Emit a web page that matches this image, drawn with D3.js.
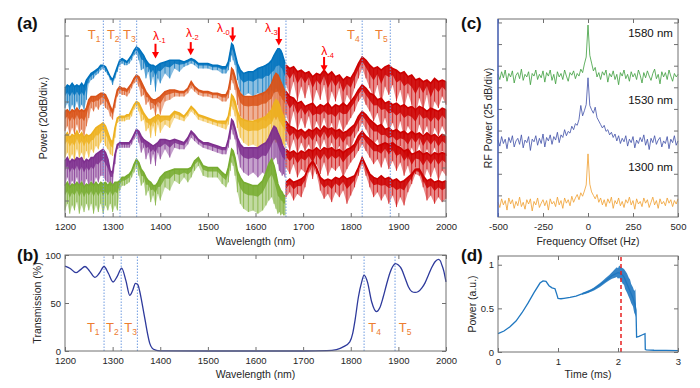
<!DOCTYPE html>
<html>
<head>
<meta charset="utf-8">
<script src="https://d3js.org/d3.v7.min.js"></script>
<style>
html,body{margin:0;padding:0;background:#fff;}
svg{display:block;}
</style>
</head>
<body>
<svg id="chart" width="700" height="388"></svg>
<script>
// ================= DATA =================
// (a) spectra, wavelength grid for the coloured part (nm)
const wlA = [1200,1205,1210,1215,1220,1225,1230,1235,1240,1245,
  1250,1255,1260,1265,1270,1275,1280,1285,1290,1295,
  1300,1305,1310,1315,1320,1325,1330,1335,1340,1345,
  1350,1355,1360,1365,1370,1375,1380,1385,1390,1395,
  1400,1410,1420,1430,1440,1450,1458,1465,1472,1480,
  1490,1500,1510,1520,1530,1538,1543,1547,1550,1553,
  1557,1562,1568,1575,1585,1595,1605,1615,1622,1628,
  1634,1639,1643,1647,1650,1653,1656,1659,1662];
// power (dB, offset) : upper envelope and lower edge of the noise
const blueTop = [78,80,79,81,79,80,79,81,79,83, 85,87,88,89,90,92,92,91,88,85, 83,87,91,95,96,95,94,96,98,101,
  103,102,100,98,95,93,92,92,91,92, 93,94,95,95,95,94,95,96,95,93, 93,93,92,92,91,91,94,100,105,104,
  99,93,89,87,88,88,90,91,92,93, 95,98,100,102,102,101,99,96,93];
const blueLow = [66,69,64,68,65,70,65,68,65,71, 81,83,84,86,87,89,90,88,86,83, 80,84,88,92,93,92,92,93,95,98,
  99,95,89,90,84,88,80,85,76,84, 81,87,84,90,88,91,92,93,92,90, 90,90,89,89,87,87,89,94,98,95,
  92,83,76,73,75,73,75,73,76,74, 77,75,78,76,77,75,76,74,73];
const orangeTop = [64,65,63,65,64,66,64,65,64,66, 71,73,73,73,74,75,75,74,71,67, 64,71,77,79,78,78,77,79,81,84,
  86,85,82,79,76,74,72,71,71,72, 73,76,77,77,76,76,78,82,79,77, 76,76,75,75,74,74,77,83,90,89,
  85,79,75,73,73,73,74,75,76,78, 81,85,87,86,84,82,80,78,76];
const orangeLow = [52,55,50,54,50,56,51,53,49,55, 60,66,64,67,65,68,69,66,65,61, 59,66,73,75,74,74,73,75,78,81,
  82,79,73,74,68,70,65,66,61,67, 62,70,71,73,73,73,75,78,76,74, 73,73,72,72,70,70,72,77,83,81,
  77,68,61,59,58,59,57,59,58,60, 58,61,59,61,58,60,58,59,57];
const yellowTop = [49,51,48,50,49,52,49,51,48,50, 49,50,52,54,55,56,57,55,51,47, 45,54,60,61,61,61,62,62,65,68,
  70,69,66,63,61,59,59,60,61,62, 61,61,61,64,63,61,64,67,65,62, 61,60,59,58,58,58,61,67,74,73,
  70,64,60,59,58,58,59,60,61,63, 65,69,71,70,68,65,63,61,58];
const yellowLow = [36,39,35,38,34,41,36,39,35,40, 36,41,39,43,41,45,47,43,41,38, 37,48,57,58,58,58,59,59,61,65,
  67,64,58,59,52,54,48,55,49,56, 51,56,54,60,59,58,61,64,62,59, 58,57,56,55,54,53,56,61,67,65,
  61,54,48,45,43,44,42,44,43,45, 44,47,45,46,44,45,43,44,42];
const purpleTop = [34,36,33,35,34,36,35,36,33,35, 34,36,36,38,39,40,41,39,35,28, 27,38,44,45,45,45,45,45,47,50,
  53,52,49,47,46,45,44,43,44,45, 47,47,46,47,46,45,48,52,50,47, 45,45,44,43,42,42,47,53,59,58,
  54,48,44,42,42,42,42,44,45,48, 52,55,54,51,49,47,44,42,41];
const purpleLow = [19,24,18,22,19,24,17,22,18,23, 19,22,18,24,21,25,25,22,21,19, 20,32,41,42,42,42,42,42,44,47,
  49,45,39,42,35,39,32,38,31,39, 35,41,36,42,41,41,44,48,46,44, 42,41,40,39,38,38,42,47,53,50,
  47,38,30,27,25,27,24,27,25,28, 32,35,36,32,28,27,25,26,24];
const greenTop = [19,21,18,20,19,21,19,21,18,20, 19,21,19,21,19,21,20,21,19,21, 19,21,21,22,24,24,25,26,28,32,
  35,33,29,27,24,22,21,19,19,21, 24,27,28,29,29,29,29,30,34,36, 31,30,30,30,27,25,30,36,41,40,
  36,28,24,21,20,19,19,22,27,32, 35,31,26,20,18,16,15,13,13];
const greenLow = [4,8,2,7,4,9,2,7,3,8, 4,8,2,7,3,8,2,7,4,8, 3,7,4,16,19,19,20,21,24,27,
  30,25,19,21,13,16,9,13,7,14, 10,18,16,22,20,24,21,24,28,31, 25,24,24,24,20,18,21,28,33,31,
  25,15,8,5,3,4,2,4,7,10, 12,8,5,2,3,1,2,1,1];
// long-wavelength (red) part
const wlB = [1664,1672,1680,1688,1696,1704,1712,1720,1728,1736,1744,1752,1760,1768,1776,1784,1792,1800,1808,1816,
  1824,1832,1840,1848,1856,1864,1872,1880,1888,1896,1904,1912,1920,1928,1936,1944,1952,1960,1968,1976,1984,1992,2000];
const red1Top = [92,90,91,88,89,87,88,85,87,86, 89,86,88,85,86,83,85,84,88,93, 97,95,92,90,91,89,91,92,90,89, 87,88,85,86,83,84,82,83,81,84, 82,83,82];
const red1Low = [80,74,82,70,79,72,80,68,77,71, 80,66,76,70,78,65,74,70,78,84, 90,84,78,72,80,68,79,74,80,70, 77,66,75,68,62,72,65,74,60,70, 66,73,68];
const red2Top = [76,73,72,69,70,67,68,69,66,68, 67,69,66,68,67,69,67,70,73,77, 80,78,75,74,71,72,69,70,68,69, 67,68,66,67,65,67,66,64,66,65, 64,66,65];
const red2Low = [62,55,64,52,60,54,61,50,58,53, 60,51,57,49,59,52,56,60,64,70, 73,68,64,58,63,54,60,52,57,50, 58,48,55,51,47,56,50,55,45,54, 49,55,50];
const red3Top = [58,55,54,52,53,51,53,52,54,52, 55,53,54,52,53,51,52,54,56,61, 64,62,59,57,55,56,53,54,52,53, 51,52,50,52,50,51,49,51,49,50, 48,50,49];
const red3Low = [46,40,47,38,45,40,44,37,46,41, 47,39,45,38,43,36,44,41,48,52, 57,53,48,44,47,40,45,38,44,36, 43,39,35,42,37,44,34,41,36,42, 35,40,37];
const red4Top = [41,39,40,38,40,39,41,40,42,40, 42,41,42,40,41,39,41,42,44,49, 52,49,47,45,43,44,45,44,45,43, 42,40,41,38,39,40,38,39,37,39, 38,39,38];
const red4Low = [30,26,32,24,29,27,31,23,32,26, 33,25,30,28,31,24,29,33,36,40, 44,40,36,32,35,30,36,29,34,28, 33,25,31,22,30,27,21,29,24,30, 22,28,25];
const red5Top = [21,23,21,22,23,25,31,34,30,24, 22,23,22,24,23,25,23,24,25,30, 36,31,26,24,23,25,23,24,22,23, 21,22,24,26,29,29,25,22,23,21, 22,21,22];
const red5Low = [12,15,10,14,12,18,27,31,26,16, 11,14,9,15,12,16,8,13,18,25, 32,25,18,12,15,10,14,8,13,6, 12,7,15,20,26,25,18,10,13,8, 12,9,11];
const markerWlA = [1280.5,1315.5,1350.5,1664,1824,1883];
const tSubs = ["1","2","3","4","5"];
const tLabelWlA = [1248,1288,1322,1792,1851];
const tLabelDbA = 108;
const lamSubs = ["-1","-2","-0","-3","-4"];
const lamLabelWl = [1385,1454,1519,1620,1738];
const lamLabelDb = [107,109,112,112,98];
const arrowWl = [1390,1464,1552,1649,1744];
const arrowTailDb = [105,106,115,115,97];
const arrowTipDb = [96,98,106,104,88];

// (b) transmission
const wlT = [1200,1211,1223,1232,1242,1252,1263,1272,1282,1291,1301,1310,1319,1328,1336,1342,1348,1353,1357,1361,
  1365,1369,1373,1378,1383,1390,1400,1500,1600,1700,1750,1770,1785,1798,1804,1809,1816,1823,1828,1835,
  1844,1854,1861,1868,1875,1882,1888,1894,1900,1907,1914,1921,1928,1935,1942,1949,1956,1963,1970,1977,
  1984,1988,1991,1995,2000];
const trans = [88.5,86,81.6,84.5,88,83,76.7,81,88,81,71.9,78,86.4,73,58,63,70.5,69,62,52,
  41,30,19,8,3,1,0.2,0,0,0,0.3,1.5,4.5,9.5,18,32,56,72,79,72,
  51,41,45,56,69,81,88,91,89.5,85,76,67,62,61,62,65.5,71,79,87,93,
  95.5,94,90,84,72];
const markerWlB = [1282,1318,1352,1828,1893];
const tLabelWlB = [1246,1286,1324.5,1837,1901];
const tLabelTB = 20;

// (c) RF spectra
const freqC = [-500,-490,-480,-470,-460,-450,-440,-430,-420,-410,-400,-390,-380,-370,-360,-350,-340,-330,-320,-310,
  -300,-290,-280,-270,-260,-250,-240,-230,-220,-210,-200,-190,-180,-170,-160,-150,-140,-130,-120,-110,
  -100,-90,-80,-70,-60,-50,-40,-30,-20,-10,0,10,20,30,40,50,60,70,80,90,
  100,110,120,130,140,150,160,170,180,190,200,210,220,230,240,250,260,270,280,290,
  300,310,320,330,340,350,360,370,380,390,400,410,420,430,440,450,460,470,480,490,500];
const rf1580 = [-60,-66,-57,-64,-55,-68,-59,-63,-56,-70, -61,-58,-65,-54,-67,-60,-63,-57,-72,-59,
  -62,-55,-66,-60,-64,-56,-69,-58,-62,-55, -67,-60,-71,-57,-63,-59,-66,-55,-62,-68,
  -58,-61,-56,-65,-59,-62,-54,-58,-48,-40, -3,-38,-47,-56,-52,-63,-58,-66,-57,-61,
  -55,-69,-59,-63,-56,-66,-60,-72,-58,-62, -55,-65,-60,-68,-57,-63,-59,-66,-55,-61,
  -70,-58,-64,-56,-62,-67,-59,-54,-65,-60, -71,-57,-63,-58,-66,-55,-62,-68,-59,-63, -60];
const rf1530 = [-136,-143,-132,-140,-135,-146,-133,-139,-131,-144, -137,-134,-141,-130,-145,-136,-139,-132,-148,-135,
  -138,-131,-142,-134,-140,-129,-144,-133,-137,-130, -141,-132,-136,-127,-139,-130,-133,-124,-131,-126,
  -128,-120,-124,-117,-119,-112,-96,-108,-102,-95, -64,-96,-101,-105,-98,-110,-114,-118,-122,-119,
  -126,-124,-130,-127,-133,-129,-137,-131,-140,-134, -138,-131,-143,-135,-139,-132,-145,-136,-140,-133,
  -138,-130,-142,-135,-147,-134,-139,-131,-141,-136, -133,-144,-137,-140,-132,-146,-135,-139,-131,-142, -137];
const rf1300 = [-208,-214,-204,-211,-206,-217,-203,-210,-205,-215, -207,-212,-202,-213,-208,-216,-205,-210,-204,-218,
  -207,-211,-203,-214,-209,-205,-212,-206,-217,-204, -210,-207,-213,-202,-211,-206,-215,-203,-209,-205,
  -212,-201,-208,-203,-199,-205,-197,-201,-195,-188, -152,-187,-196,-200,-204,-199,-208,-203,-211,-205,
  -213,-204,-209,-202,-215,-206,-210,-203,-212,-207, -214,-205,-209,-202,-211,-206,-216,-204,-210,-207,
  -213,-203,-209,-205,-214,-208,-202,-211,-206,-215, -204,-210,-207,-212,-203,-209,-205,-213,-206,-210, -204];
const rfLabels = ["1580 nm","1530 nm","1300 nm"];
const rfLabelFreq = 472;
const rfLabelDb = [-17,-94,-172];

// (d) power vs time
const tD = [0,0.1,0.2,0.3,0.4,0.5,0.6,0.7,0.75,0.8,0.85,0.9,0.95,0.98,1.0,1.05,1.1,1.2,1.3,1.4,
  1.5,1.6,1.7,1.8,1.9,2.0,2.05,2.1,2.15,2.2,2.25,2.28,2.3,2.31,2.35,2.4,2.45,2.455,2.47,2.6,2.8,3.0];
const pD = [0.21,0.24,0.29,0.355,0.45,0.56,0.68,0.79,0.815,0.81,0.76,0.735,0.725,0.66,0.615,0.61,0.615,0.625,0.64,0.665,
  0.69,0.725,0.77,0.82,0.875,0.91,0.90,0.86,0.78,0.70,0.62,0.55,0.48,0.17,0.18,0.195,0.21,0.03,0.025,0.02,0.018,0.015];
const tBand = [1.40,1.45,1.50,1.55,1.60,1.65,1.70,1.75,1.80,1.85,1.90,1.95,1.98,2.00,2.02,2.05,2.08,2.10,2.12,2.15,2.18,2.20,2.22,2.25,2.27,2.29,2.30];
const bandHi = [0.675,0.69,0.705,0.72,0.74,0.765,0.79,0.82,0.85,0.88,0.915,0.95,0.97,0.96,0.99,0.97,0.96,0.95,0.93,0.90,0.85,0.83,0.78,0.74,0.70,0.72,0.55];
const bandLo = [0.655,0.665,0.675,0.69,0.705,0.725,0.745,0.77,0.795,0.82,0.84,0.85,0.86,0.84,0.85,0.82,0.78,0.77,0.72,0.68,0.63,0.60,0.56,0.52,0.45,0.42,0.40];
const markT = 2.05;

// ================= DRAWING =================
const FONT = '"Liberation Sans", Arial, Helvetica, sans-serif';
const svg = d3.select("#chart");
svg.append("rect").attr("width",700).attr("height",388).attr("fill","#fff");

const PA={l:65,r:446,t:19,b:217}, PB={l:65,r:446,t:255,b:351},
      PC={l:498,r:678,t:19,b:217}, PD={l:498,r:678,t:256,b:352};
const xA=d3.scaleLinear().domain([1200,2000]).range([PA.l,PA.r]);
const yA=d3.scaleLinear().domain([0,120]).range([PA.b,PA.t]);
const xB=d3.scaleLinear().domain([1200,2000]).range([PB.l,PB.r]);
const yB=d3.scaleLinear().domain([0,100]).range([PB.b,PB.t]);
const xC=d3.scaleLinear().domain([-500,500]).range([PC.l,PC.r]);
const yC=d3.scaleLinear().domain([-225,4]).range([PC.b,PC.t]);
const xD=d3.scaleLinear().domain([0,3]).range([PD.l,PD.r]);
const yD=d3.scaleLinear().domain([0,1.1]).range([PD.b,PD.t]);

function frame(P,x,y,xt,yt,xfmt,yfmt){
  const g=svg.append("g");
  g.append("g").attr("transform",`translate(0,${P.b})`)
    .call(d3.axisBottom(x).tickValues(xt).tickSizeInner(-4).tickSizeOuter(0).tickPadding(6.5).tickFormat(xfmt||""));
  g.append("g").attr("transform",`translate(0,${P.t})`)
    .call(d3.axisTop(x).tickValues(xt).tickSizeInner(-4).tickSizeOuter(0).tickFormat(""));
  g.append("g").attr("transform",`translate(${P.l},0)`)
    .call(d3.axisLeft(y).tickValues(yt).tickSizeInner(-4).tickSizeOuter(0).tickPadding(4).tickFormat(yfmt||""));
  g.append("g").attr("transform",`translate(${P.r},0)`)
    .call(d3.axisRight(y).tickValues(yt).tickSizeInner(-4).tickSizeOuter(0).tickFormat(""));
  g.selectAll(".domain").remove();
  g.selectAll(".tick line").attr("stroke","#707070");
  g.selectAll(".tick text").attr("fill","#262626").attr("font-size",9.5).attr("font-family",FONT);
  g.append("rect").attr("x",P.l).attr("y",P.t).attr("width",P.r-P.l).attr("height",P.b-P.t)
    .attr("fill","none").attr("stroke","#707070").attr("stroke-width",1);
  return g;
}
function text(x,y,s,opt){
  return svg.append("text").attr("x",x).attr("y",y).attr("font-family",FONT)
    .attr("font-size",opt.size||10.5).attr("fill",opt.fill||"#262626")
    .attr("text-anchor",opt.anchor||"start").attr("font-weight",opt.weight||"normal").text(s);
}
function vtext(x,y,s,size){
  svg.append("text").attr("transform",`translate(${x},${y}) rotate(-90)`).attr("text-anchor","middle")
    .attr("font-family",FONT).attr("font-size",size).attr("fill","#262626").text(s);
}
function subLabel(x,y,main,sub,color,size,subSize,dy){
  const t=svg.append("text").attr("x",x).attr("y",y).attr("font-family",FONT)
    .attr("font-size",size).attr("fill",color);
  t.append("tspan").text(main);
  t.append("tspan").attr("dy",dy).attr("font-size",subSize).text(sub);
}

// ---- panel (a) ----
const gA=svg.append("g");
const colA=["#0072BD","#D95319","#EDB120","#7E2F8E","#77AC30"];
const topsA=[blueTop,orangeTop,yellowTop,purpleTop,greenTop];
const lowsA=[blueLow,orangeLow,yellowLow,purpleLow,greenLow];
const topsB=[red1Top,red2Top,red3Top,red4Top,red5Top];
const lowsB=[red1Low,red2Low,red3Low,red4Low,red5Low];
const RED="#CC0000";
function drawSpec(wl,top,low,color){
  const pts=wl.map((w,i)=>[w,top[i],low[i]]);
  // full noise extent (light)
  gA.append("path").attr("d",d3.area().x(d=>xA(d[0])).y0(d=>yA(d[2])).y1(d=>yA(d[1]))(pts))
    .attr("fill",color).attr("fill-opacity",0.45);
  // spikes
  pts.forEach(d=>{
    gA.append("line").attr("x1",xA(d[0])).attr("x2",xA(d[0])).attr("y1",yA(d[1])).attr("y2",yA(d[2]))
      .attr("stroke",color).attr("stroke-width",0.9).attr("stroke-opacity",0.8);
  });
  // dense core just under the envelope
  gA.append("path").attr("d",d3.area().x(d=>xA(d[0])).y0(d=>yA(d[1]-(d[1]-d[2])*0.4)).y1(d=>yA(d[1]))(pts))
    .attr("fill",color).attr("fill-opacity",0.85);
  gA.append("path").attr("d",d3.line().x(d=>xA(d[0])).y(d=>yA(d[1]))(pts))
    .attr("fill","none").attr("stroke",color).attr("stroke-width",1.6);
}
for(let i=0;i<5;i++){
  drawSpec(wlA,topsA[i],lowsA[i],colA[i]);
  drawSpec(wlB,topsB[i],lowsB[i],RED);
}
markerWlA.forEach(w=>{
  gA.append("line").attr("x1",xA(w)).attr("x2",xA(w)).attr("y1",yA(0)).attr("y2",yA(120))
    .attr("stroke","#6f9be0").attr("stroke-width",1).attr("stroke-dasharray","1.5,1.5");
});
frame(PA,xA,yA,[1200,1300,1400,1500,1600,1700,1800,1900,2000],[10,30,50,70,90,110],d=>String(d),null);
tSubs.forEach((s,i)=>subLabel(xA(tLabelWlA[i]),yA(tLabelDbA),"T",s,"#ED7D31",13,8.5,3.5));
lamSubs.forEach((s,i)=>{
  subLabel(xA(lamLabelWl[i]),yA(lamLabelDb[i]),"λ",s,"#FF0000",12,7.5,3);
  const x=xA(arrowWl[i]), y0=yA(arrowTailDb[i]), y1=yA(arrowTipDb[i]);
  svg.append("line").attr("x1",x).attr("x2",x).attr("y1",y0).attr("y2",y1-5)
    .attr("stroke","#FF0000").attr("stroke-width",2);
  svg.append("path").attr("d",`M${x},${y1}L${x-3.5},${y1-6.5}L${x+3.5},${y1-6.5}Z`).attr("fill","#FF0000");
});
text(255.5,245,"Wavelength (nm)",{anchor:"middle"});
vtext(47,118,"Power (20dB/div.)",10.5);
text(17,29,"(a)",{size:17,weight:"bold",fill:"#111"});

// ---- panel (b) ----
markerWlB.forEach(w=>{
  svg.append("line").attr("x1",xB(w)).attr("x2",xB(w)).attr("y1",yB(0)).attr("y2",yB(100))
    .attr("stroke","#6f9be0").attr("stroke-width",1).attr("stroke-dasharray","1.5,1.5");
});
svg.append("path").attr("d",d3.line().curve(d3.curveMonotoneX).x(d=>xB(d[0])).y(d=>yB(d[1]))(wlT.map((w,i)=>[w,trans[i]])))
  .attr("fill","none").attr("stroke","#2E3A9C").attr("stroke-width",1.3);
frame(PB,xB,yB,[1200,1300,1400,1500,1600,1700,1800,1900,2000],[0,50,100],d=>String(d),d=>String(d));
tSubs.forEach((s,i)=>subLabel(xB(tLabelWlB[i]),yB(tLabelTB),"T",s,"#ED7D31",13,8.5,3.5));
text(255.5,378,"Wavelength (nm)",{anchor:"middle"});
vtext(41,303,"Transmission (%)",10.5);
text(17,261,"(b)",{size:17,weight:"bold",fill:"#111"});

// ---- panel (c) ----
const colC=["#3E9E3E","#4050A8","#F0A030"];
[rf1580,rf1530,rf1300].forEach((arr,k)=>{
  svg.append("path").attr("d",d3.line().x(d=>xC(d[0])).y(d=>yC(d[1]))(freqC.map((f,i)=>[f,arr[i]])))
    .attr("fill","none").attr("stroke",colC[k]).attr("stroke-width",0.9).attr("stroke-opacity",0.9);
});
frame(PC,xC,yC,[-500,-250,0,250,500],[-200,-175,-150,-125,-100,-75,-50,-25,0],d=>String(d),null);
svg.append("line").attr("x1",PC.l).attr("x2",PC.l).attr("y1",PC.t).attr("y2",PC.b).attr("stroke","#3F5FC8").attr("stroke-width",1.2);
rfLabels.forEach((s,i)=>text(xC(rfLabelFreq),yC(rfLabelDb[i]),s,{anchor:"end",size:11.5,fill:"#111"}));
text(588,245,"Frequency Offset (Hz)",{anchor:"middle"});
vtext(492,118,"RF Power (25 dB/div)",10.5);
text(461,29,"(c)",{size:17,weight:"bold",fill:"#111"});

// ---- panel (d) ----
svg.append("path").attr("d",d3.area().x(d=>xD(d[0])).y0(d=>yD(d[2])).y1(d=>yD(d[1]))(tBand.map((t,i)=>[t,bandHi[i],bandLo[i]])))
  .attr("fill","#1F77C0").attr("fill-opacity",0.9);
svg.append("path").attr("d",d3.line().x(d=>xD(d[0])).y(d=>yD(d[1]))(tD.map((t,i)=>[t,pD[i]])))
  .attr("fill","none").attr("stroke","#1F77C0").attr("stroke-width",1.3);
svg.append("line").attr("x1",xD(markT)).attr("x2",xD(markT)).attr("y1",yD(0)).attr("y2",yD(1.1))
  .attr("stroke","#E82020").attr("stroke-width",1.5).attr("stroke-dasharray","4,3");
frame(PD,xD,yD,[0,1,2,3],[0,0.5,1],d=>String(d),d=>String(d));
text(588,378,"Time (ms)",{anchor:"middle"});
vtext(476,304,"Power (a.u.)",10.5);
text(461,261,"(d)",{size:17,weight:"bold",fill:"#111"});
</script>
</body>
</html>
